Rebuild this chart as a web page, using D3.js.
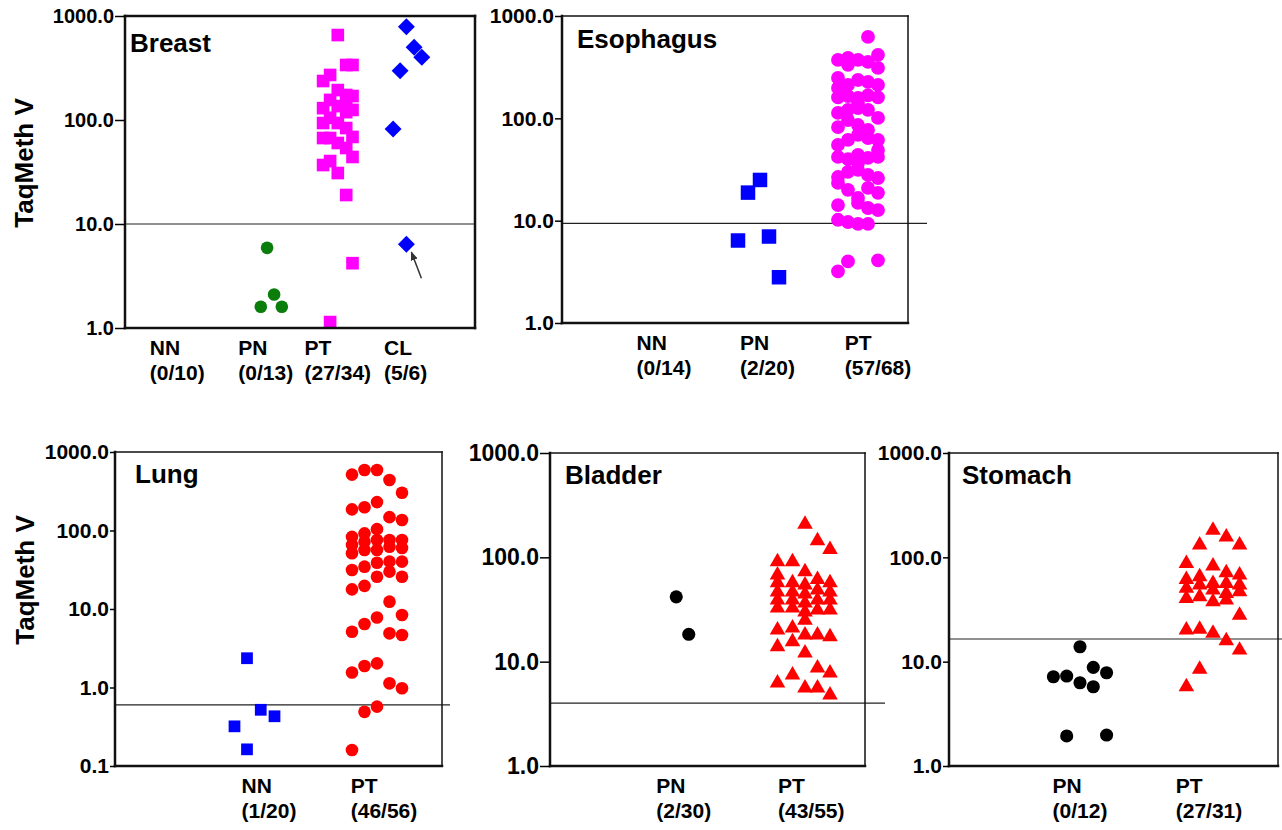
<!DOCTYPE html>
<html>
<head>
<meta charset="utf-8">
<script src="https://d3js.org/d3.v7.min.js"></script>
<style>
  body { margin: 0; background: #fff; }
  svg { display: block; }
  text { font-family: "Liberation Sans", Arial, sans-serif; font-weight: bold; fill: #000; }
  .tick line { stroke: #000; stroke-width: 1.5px; }
  .domain { display: none; }
</style>
</head>
<body>
<script>
// ---- data: [jitter in category units, TaqMeth V value] ----
var ticksStd = [1, 10, 100, 1000];
var ticksLung = [0.1, 1, 10, 100, 1000];

var titles = ["Breast", "Esophagus", "Lung", "Bladder", "Stomach"];
var cutoffs = [10, 9.4, 0.6, 4.0, 16.5];

var breastCats = ["NN", "PN", "PT", "CL"];
var breastFrac = ["(0/10)", "(0/13)", "(27/34)", "(5/6)"];
var breastPN = [[-0.01,5.9],[0.09,2.1],[-0.1,1.6],[0.2,1.6]];
var breastPT = [[0,656],[0.12,338],[0.21,338],[-0.11,271],[-0.21,237],[0,194],[0.12,174],[0.21,170],
  [-0.11,156],[0.12,149],[-0.21,130],[0,136],[0.21,125],[0.12,119],[-0.11,105],[-0.21,93.5],[0,93.5],
  [0.12,83.7],[0.21,68.7],[-0.21,67.1],[-0.11,67.1],[0,60.1],[0.12,53.8],[0.21,44.1],[-0.11,40.3],
  [-0.21,36.9],[0,30.9],[0.12,19.0],[0.21,4.2],[-0.11,1.14]];
var breastCL = [[-0.02,789],[0.09,500],[0.2,401],[-0.11,298],[-0.21,82],[-0.02,6.4]];

var esoCats = ["NN", "PN", "PT"];
var esoFrac = ["(0/14)", "(2/20)", "(57/68)"];
var esoPN = [[0.02,25],[-0.1,18.8],[-0.2,6.4],[0.11,7.0],[0.21,2.8]];
var esoPT = [[0.1,625],
  [-0.2,372],[-0.1,389],[0,372],[0.1,356],[0.2,417],[0.2,311],[-0.1,333],
  [-0.2,248],[-0.1,212],[0,237],[0.1,227],[0.2,212],[-0.2,198],
  [-0.2,160],[-0.1,165],[0,158],[0.1,168],[0.2,160],[0,142],
  [-0.2,113],[-0.1,121],[0,126],[0.1,121],[0.2,101],[-0.1,96],
  [-0.2,82],[0,86],[0.1,77],
  [-0.1,61.5],[0,69],[0.1,64],[0.2,61.5],[-0.2,55],[0.2,49],
  [-0.2,42],[-0.1,40],[0,44],[0.1,41],[0.2,42],[0,36.6],
  [-0.2,26.7],[-0.1,30],[0,31.3],[0.1,28],[0.2,26.1],[-0.2,23.4],
  [-0.1,20],[0.1,20.9],[0.2,18.7],[0,16.7],
  [-0.2,14.2],[0,14.9],[0.1,13.3],[0.2,12.7],
  [-0.2,10.2],[-0.1,9.7],[0,9.3],[0.1,9.3],
  [-0.1,4.0],[0.2,4.1],[-0.2,3.2]];

var lungCats = ["NN", "PT"];
var lungFrac = ["(1/20)", "(46/56)"];
var lungNN = [[-0.04,2.36],[0.07,0.52],[0.18,0.43],[-0.14,0.32],[-0.04,0.163]];
var lungPTcols = [-0.2, -0.1, 0, 0.1, 0.2];
var lungPT = [
  [515,186,83,65.4,51.3,31.4,17.8,5.14,1.55,0.16],
  [590,198,92,72,56.5,34.6,19.7,6.44,1.88,0.49],
  [590,230,104,75.7,56.5,38.9,25.8,7.8,2.03,0.57],
  [440,148,75.7,62.2,40.1,29.9,12.4,4.9,1.13],
  [303,136,75.7,59.8,40.1,25.8,8.39,4.67,0.98]];

var bladderCats = ["PN", "PT"];
var bladderFrac = ["(2/30)", "(43/55)"];
var bladderPN = [[-0.03,41.8],[0.07,18.3]];
var bladderPTcols = [-0.22, -0.1, 0, 0.1, 0.2];
var bladderPT = [
  [90.6,67.6,57,46.4,38.9,32.6,20.1,13.9,6.24],
  [90.6,57,46.4,38.9,32.6,21,15.5,7.44],
  [208,72.6,54.2,44.4,36.4,29.9,25,18,12.1,5.59],
  [144,61.4,48.5,38.9,31.2,18,8.68,5.59],
  [119,57,46.4,38.9,31.2,17.3,7.78,4.79]];

var stomachCats = ["PN", "PT"];
var stomachFrac = ["(0/12)", "(27/31)"];
var stomachPN = [[0,13.9],[0.1,8.82],[0.2,7.83],[-0.2,7.17],[-0.1,7.28],[0,6.28],[0.1,5.75],[-0.1,1.94],[0.2,1.98]];
var stomachPTcols = [-0.2, -0.1, 0, 0.1, 0.2];
var stomachPT = [
  [87.4,61.4,50.4,40.4,20.1,5.75],
  [131,65,54.2,41.8,20.4,8.44],
  [182,82.4,56.2,48.5,37.5,18.7],
  [157,71.1,56.2,45.1,38.9,15.9],
  [131,67.6,54.2,46.7,27.9,12.9]];

function cols(js, vals) {
  return js.flatMap(function(j, i) { return vals[i].map(function(v) { return [j, v]; }); });
}

// ---- layout ----
var panels = [
  { cats: breastCats, frac: breastFrac, ticks: ticksStd,
    box: {l:125, t:16, r:475, b:328}, bw: [2.5,2.5,2.5,2.5], xDom: [-0.04, 4.96],
    labelAt: [0.707, 1.97, 3.0, 3.97], tickLen: 10, tickFont: 20, cutExt: 0,
    titleDx: 5, titleDy: 36, yTitle: [24, 163], arrow: true,
    series: [
      { cat: 2, pts: breastPN, shape: "circle", size: 125, color: "#0b7d0b" },
      { cat: 3, pts: breastPT, shape: "square", size: 160, color: "#ff00ff" },
      { cat: 4, pts: breastCL, shape: "diamond", size: 144, color: "#0000ff" }] },
  { cats: esoCats, frac: esoFrac, ticks: ticksStd,
    box: {l:562, t:16, r:908, b:323}, bw: [1.5,1.5,2.5,2.5], xDom: [0.04, 3.5],
    labelAt: [1.06, 2.095, 3.2], tickLen: 7, tickFont: 21, cutExt: 19,
    titleDx: 15, titleDy: 32,
    series: [
      { cat: 2, pts: esoPN, shape: "square", size: 210, color: "#0000ff" },
      { cat: 3, pts: esoPT, shape: "circle", size: 150, color: "#ff00ff" }] },
  { cats: lungCats, frac: lungFrac, ticks: ticksLung,
    box: {l:115, t:452, r:442, b:766}, bw: [1.5,1.5,2.5,2.5], xDom: [-0.096, 2.52],
    labelAt: [1.136, 2.056], tickLen: 5, tickFont: 21, cutExt: 8,
    titleDx: 20, titleDy: 31, yTitle: [25, 580],
    series: [
      { cat: 1, pts: lungNN, shape: "square", size: 138, color: "#0000ff" },
      { cat: 2, pts: cols(lungPTcols, lungPT), shape: "circle", size: 125, color: "#ff0000" }] },
  { cats: bladderCats, frac: bladderFrac, ticks: ticksStd,
    box: {l:550, t:453, r:865, b:766}, bw: [1.5,1.5,2.5,2.5], xDom: [-0.04, 2.48],
    labelAt: [1.03, 2.05], tickLen: 10, tickFont: 23, cutExt: 20,
    titleDx: 15, titleDy: 31,
    series: [
      { cat: 1, pts: bladderPN, shape: "circle", size: 135, color: "#000" },
      { cat: 2, pts: cols(bladderPTcols, bladderPT), shape: "triangle", size: 105, color: "#ff0000" }] },
  { cats: stomachCats, frac: stomachFrac, ticks: ticksStd,
    box: {l:949, t:453, r:1278, b:766}, bw: [1.5,1.5,2.5,2.5], xDom: [0.015, 2.489],
    labelAt: [1.0, 1.97], tickLen: 6, tickFont: 21, cutExt: 4,
    titleDx: 13, titleDy: 31,
    series: [
      { cat: 1, pts: stomachPN, shape: "circle", size: 135, color: "#000" },
      { cat: 2, pts: cols(stomachPTcols, stomachPT), shape: "triangle", size: 105, color: "#ff0000" }] }
];

var shapes = { circle: d3.symbolCircle, square: d3.symbolSquare, diamond: d3.symbolSquare, triangle: d3.symbolTriangle };

var svg = d3.select("body").append("svg").attr("width", 1282).attr("height", 830);

svg.append("defs").append("marker")
    .attr("id", "ah").attr("viewBox", "0 0 10 10").attr("refX", 9).attr("refY", 5)
    .attr("markerWidth", 9).attr("markerHeight", 9).attr("orient", "auto")
    .attr("markerUnits", "userSpaceOnUse")
  .append("path").attr("d", "M0,1 L10,5 L0,9 Z").attr("fill", "#333");

panels.forEach(function(p, pi) {
  var g = svg.append("g");
  var b = p.box;
  var y = d3.scaleLog().domain([p.ticks[0], 1000]).range([b.b, b.t]);
  var x = d3.scaleLinear().domain(p.xDom).range([b.l, b.r]);

  // cutoff line
  g.append("line")
      .attr("x1", b.l).attr("x2", b.r + p.cutExt)
      .attr("y1", y(cutoffs[pi])).attr("y2", y(cutoffs[pi]))
      .attr("stroke", "#222").attr("stroke-width", 1.2);

  // points
  p.series.forEach(function(s) {
    var sym = d3.symbol().type(shapes[s.shape]).size(s.size);
    g.selectAll(null).data(s.pts).join("path")
        .attr("d", sym)
        .attr("transform", function(d) {
          return "translate(" + x(s.cat + d[0]) + "," + y(d[1]) + ")" + (s.shape === "diamond" ? " rotate(45)" : "");
        })
        .attr("fill", s.color);
  });

  // arrow to the low CL sample
  if (p.arrow) {
    var last = breastCL[breastCL.length - 1];
    var px = x(4 + last[0]), py = y(last[1]);
    g.append("line")
        .attr("x1", px + 15).attr("y1", py + 34)
        .attr("x2", px + 5).attr("y2", py + 8)
        .attr("stroke", "#333").attr("stroke-width", 1.5)
        .attr("marker-end", "url(#ah)");
  }

  // frame
  var edges = [[b.l, b.t, b.r, b.t], [b.r, b.t, b.r, b.b], [b.l, b.b, b.r, b.b], [b.l, b.t, b.l, b.b]];
  edges.forEach(function(e, i) {
    g.append("line").attr("x1", e[0]).attr("y1", e[1]).attr("x2", e[2]).attr("y2", e[3])
        .attr("stroke", "#111").attr("stroke-width", p.bw[i]).attr("stroke-linecap", "square");
  });

  // y axis
  var ax = d3.axisLeft(y).tickValues(p.ticks).tickFormat(d3.format(".1f"))
      .tickSize(p.tickLen).tickPadding(1);
  var ag = g.append("g").attr("transform", "translate(" + b.l + ",0)").call(ax);
  ag.selectAll("text").style("font-size", p.tickFont + "px");

  // panel title
  g.append("text").attr("x", b.l + p.titleDx).attr("y", b.t + p.titleDy)
      .style("font-size", "26px").text(titles[pi]);

  // y title
  if (p.yTitle) {
    g.append("text")
        .attr("transform", "translate(" + p.yTitle[0] + "," + p.yTitle[1] + ") rotate(-90)")
        .attr("text-anchor", "middle").attr("dy", "0.35em")
        .style("font-size", "26px").text("TaqMeth V");
  }

  // category labels (two lines, left aligned, block centred)
  p.cats.forEach(function(c, i) {
    var cx = x(p.labelAt[i]);
    var t1 = g.append("text").attr("y", b.b + 27).style("font-size", "21px").text(c);
    var t2 = g.append("text").attr("y", b.b + 52).style("font-size", "21px").text(p.frac[i]);
    var w = Math.max(t1.node().getComputedTextLength(), t2.node().getComputedTextLength());
    t1.attr("x", cx - w / 2);
    t2.attr("x", cx - w / 2);
  });
});
</script>
</body>
</html>
